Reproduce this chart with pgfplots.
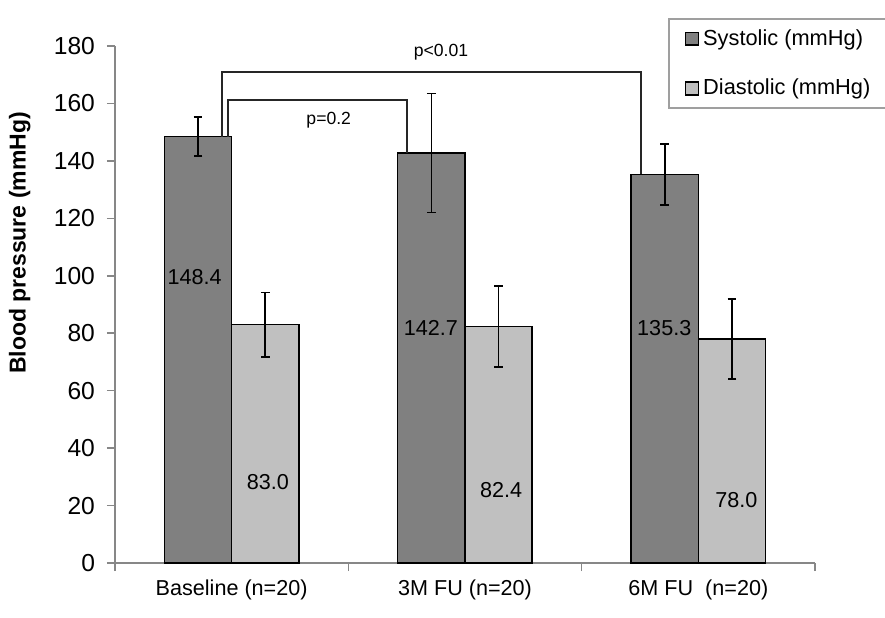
\documentclass[border=0pt]{standalone}
\usepackage{pgfplots}
\pgfplotsset{compat=1.18}
\usepackage{fontspec}
\setmainfont{Liberation Sans}
\definecolor{sys}{RGB}{128,128,128}
\definecolor{dia}{RGB}{192,192,192}
\definecolor{axgray}{RGB}{135,135,135}
\begin{document}
\begin{tikzpicture}[font=\fontsize{10.8}{13}\selectfont]
\path[use as bounding box] (-57.5pt,-27pt) rectangle (385pt,281.5pt);
\begin{axis}[
  scale only axis, width=350pt, height=258.5pt,
  xmin=-0.5, xmax=2.5, ymin=0, ymax=180,
  clip=false,
  axis x line*=bottom, axis y line*=left,
  axis line style={axgray, line width=0.8pt},
  tick align=outside, major tick length=4pt,
  tick style={axgray, line width=0.8pt},
  /pgf/number format/assume math mode=true,
  ytick={0,20,...,180},
  yticklabel style={font=\fontsize{12.3}{14}\selectfont, xshift=-2.5pt},
  xtick={-0.5,0.5,1.5,2.5}, xticklabels={},
  extra x ticks={0,1,2},
  extra x tick labels={Baseline (n=20), 3M FU (n=20), 6M FU\ \ (n=20)},
  extra x tick style={major tick length=0pt, xticklabel style={yshift=-5pt}},
  ylabel={Blood pressure (mmHg)},
  ylabel style={at={(axis description cs:-0.136,0.619)}, anchor=center, font=\fontsize{11.5}{14}\selectfont\bfseries},
  ybar, bar width=0.288,
  legend style={at={(rel axis cs:0.79,1.0534)}, anchor=north west, draw=axgray!80, line width=1pt,
    inner xsep=8pt, inner ysep=3pt, row sep=11.5pt, font=\fontsize{10.9}{13}\selectfont},
  legend cell align=left,
]
\addplot[fill=sys, draw=black, line width=0.7pt, bar shift=-0.144,
  legend image code/.code={\draw[fill=sys, draw=black, line width=0.7pt] (0pt,-3.2pt) rectangle (6.4pt,3.2pt);},
  error bars/.cd, y dir=both, y explicit,
  error bar style={black, line width=0.8pt},
  error mark options={rotate=90, black, mark size=2.2pt, line width=0.8pt}]
  coordinates {(0,148.4) +- (0,6.8) (1,142.7) +- (0,20.7) (2,135.3) +- (0,10.6)};
\addlegendentry{Systolic (mmHg)}
\addplot[fill=dia, draw=black, line width=0.7pt, bar shift=0.144,
  legend image code/.code={\draw[fill=dia, draw=black, line width=0.7pt] (0pt,-3.2pt) rectangle (6.4pt,3.2pt);},
  error bars/.cd, y dir=both, y explicit,
  error bar style={black, line width=0.8pt},
  error mark options={rotate=90, black, mark size=2.2pt, line width=0.8pt}]
  coordinates {(0,83.0) +- (0,11.2) (1,82.4) +- (0,14.1) (2,78.0) +- (0,13.9)};
\addlegendentry{Diastolic (mmHg)}
% significance brackets
\addplot[sharp plot, black!85, line width=0.9pt, forget plot]
  coordinates {(-0.042,148.4) (-0.042,170.9) (1.754,170.9) (1.754,135.3)};
\addplot[sharp plot, black!85, line width=0.9pt, forget plot]
  coordinates {(-0.016,148.4) (-0.016,161.2) (0.75,161.2) (0.75,142.7)};
\node[font=\fontsize{8.8}{10}\selectfont] at (axis cs:0.897,177.7) {p<0.01};
\node[font=\fontsize{8.8}{10}\selectfont] at (axis cs:0.416,154.2) {p=0.2};
% value labels
\node at (axis cs:-0.159,99.6) {148.4};
\node at (axis cs:0.854,81.8) {142.7};
\node at (axis cs:1.854,81.8) {135.3};
\node at (axis cs:0.155,28.2) {83.0};
\node at (axis cs:1.155,25.4) {82.4};
\node at (axis cs:2.163,21.9) {78.0};
\end{axis}
\end{tikzpicture}
\end{document}
